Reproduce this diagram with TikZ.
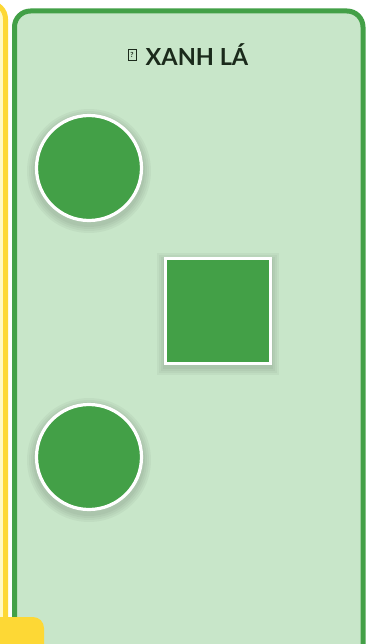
\documentclass[tikz,border=0pt]{standalone}
\usepackage{fontspec}
\setmainfont{Lato}
\begin{document}
\begin{tikzpicture}[x=1pt,y=-1pt,
  shapefill/.style={fill=shapegreen,draw=white,line width=3.2pt},
  shadowlayer/.style={fill=black,opacity=0.035}]
\definecolor{panelfill}{HTML}{C8E6C9}
\definecolor{panelborder}{HTML}{43A047}
\definecolor{shapegreen}{HTML}{43A047}
\definecolor{yellowborder}{HTML}{FDD835}
\definecolor{yellowfill}{HTML}{FFF9C4}
\definecolor{titlecol}{HTML}{1B2A1B}
\useasboundingbox (0,0) rectangle (373,644);
\fill[white] (0,0) rectangle (373,644);
\begin{scope}
\clip (0,0) rectangle (373,644);
% left yellow panel edge
\draw[fill=yellowfill,draw=yellowborder,line width=5pt,rounded corners=16pt] (-300,3) rectangle (5.5,720);
% green panel
\draw[fill=panelfill,draw=panelborder,line width=5pt,rounded corners=16pt] (14.5,11) rectangle (363,720);
% bottom-left yellow tab
\fill[yellowborder,rounded corners=11pt] (-30,617) rectangle (44,700);
\end{scope}
% title
\node[draw=titlecol,line width=0.9pt,minimum width=8pt,minimum height=11pt,inner sep=0pt,font=\fontsize{7}{7}\selectfont\bfseries,text=titlecol] (icon) at (132,55) {?};
\node[anchor=west,font=\fontsize{23.5}{25}\selectfont\bfseries,text=titlecol,inner sep=0pt] (title) at (145.5,55) {XANH LÁ};
% shadows
\foreach \r in {56,58,60,62} {
  \fill[shadowlayer] (89,171) circle (\r);
  \fill[shadowlayer] (89,460) circle (\r);
  \fill[shadowlayer] ({218-\r+1},{314-\r+1}) rectangle ({218+\r-1},{314+\r-1});
}
% shapes
\node[shapefill,circle,minimum size=105pt,inner sep=0pt] (c1) at (89,168) {};
\node[shapefill,rectangle,minimum size=105pt,inner sep=0pt] (sq) at (218,311) {};
\node[shapefill,circle,minimum size=105pt,inner sep=0pt] (c2) at (89,457) {};
\end{tikzpicture}
\end{document}
